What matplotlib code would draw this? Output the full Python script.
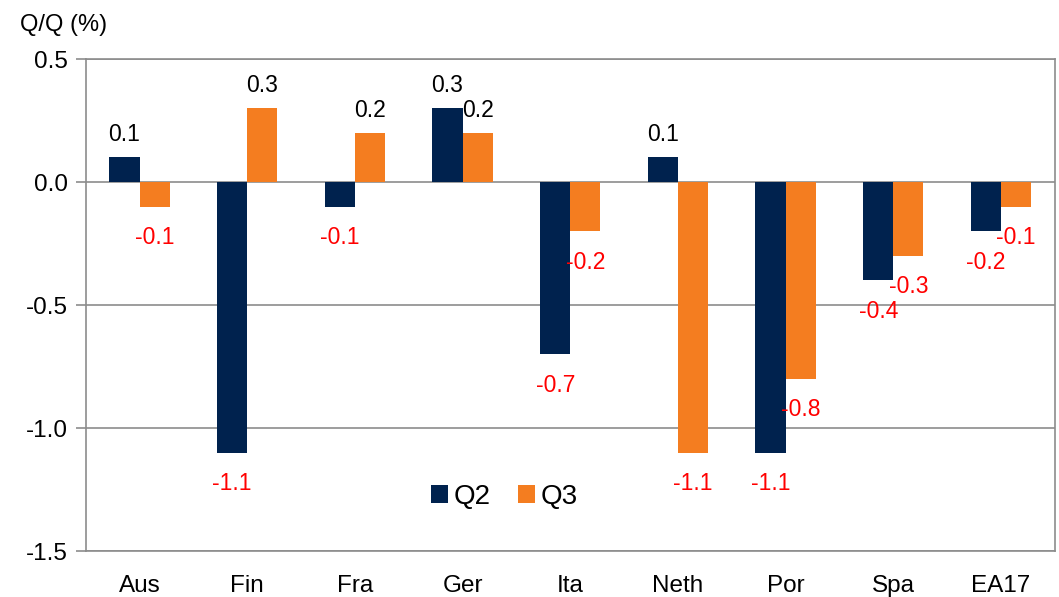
import numpy as np
import matplotlib.pyplot as plt

plt.rcParams['font.family'] = ['Liberation Sans', 'DejaVu Sans']

countries = ['Aus', 'Fin', 'Fra', 'Ger', 'Ita', 'Neth', 'Por', 'Spa', 'EA17']
q2 = [0.1, -1.1, -0.1, 0.3, -0.7, 0.1, -1.1, -0.4, -0.2]
q3 = [-0.1, 0.3, 0.2, 0.2, -0.2, -1.1, -0.8, -0.3, -0.1]

navy = '#00224E'
orange = '#F47D20'
grey = '#8C8C8C'

fig = plt.figure(figsize=(10.59, 5.97), dpi=100)
ax = fig.add_axes([0.081, 0.077, 0.915, 0.824])

x = np.arange(len(countries))
w = 0.28
b2 = ax.bar(x - w / 2, q2, w, color=navy, label='Q2', zorder=3)
b3 = ax.bar(x + w / 2, q3, w, color=orange, label='Q3', zorder=3)

# value labels: black above positive bars, red below negative bars
for bars, vals in ((b2, q2), (b3, q3)):
    for rect, v in zip(bars, vals):
        cx = rect.get_x() + rect.get_width() / 2
        if v >= 0:
            ax.annotate(f'{v:.1f}', (cx, v), xytext=(0, 8), textcoords='offset points',
                        ha='center', va='bottom', fontsize=16.5, color='black')
        else:
            ax.annotate(f'{v:.1f}', (cx, v), xytext=(0, -14), textcoords='offset points',
                        ha='center', va='top', fontsize=16.5, color='red')

ax.set_xlim(-0.5, len(countries) - 0.5)
ax.set_ylim(-1.5, 0.5)
ax.set_yticks([-1.5, -1.0, -0.5, 0.0, 0.5])
ax.set_yticklabels(['-1.5', '-1.0', '-0.5', '0.0', '0.5'])
ax.set_xticks(x)
ax.set_xticklabels(countries)
ax.tick_params(axis='y', labelsize=17.5, length=7, color=grey, width=1.2, pad=6)
ax.tick_params(axis='x', labelsize=17.5, length=0, pad=17)

ax.yaxis.grid(True, color=grey, linewidth=1.2, zorder=0)
for s in ax.spines.values():
    s.set_color(grey)
    s.set_linewidth(1.2)

fig.text(0.019, 0.958, 'Q/Q (%)', fontsize=17, ha='left', va='center')

ax.legend(loc='center', bbox_to_anchor=(0.432, 0.11), ncol=2, frameon=False,
          fontsize=20, handlelength=0.6, handleheight=0.6, handletextpad=0.2,
          columnspacing=1.0)

fig.savefig('out.png', dpi=100)
